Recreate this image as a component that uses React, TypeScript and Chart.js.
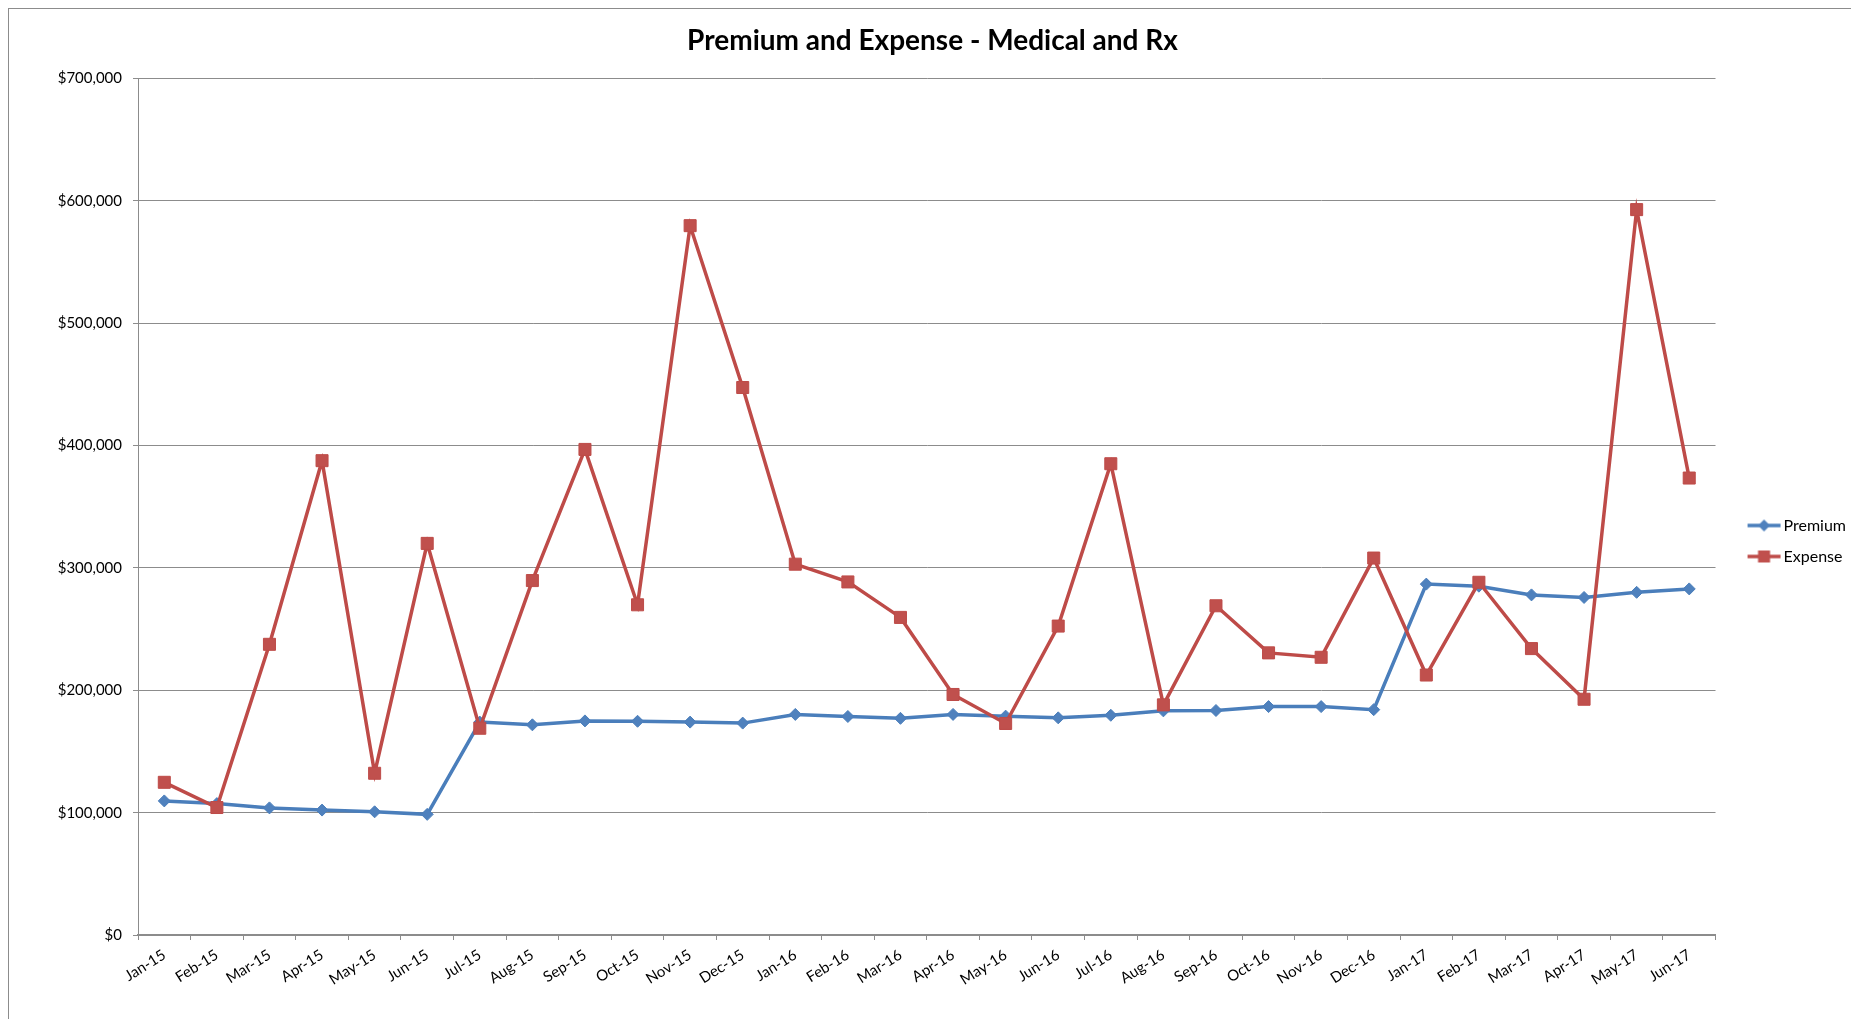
import React, { useEffect, useRef } from "react";
import { Chart, registerables } from "chart.js";

Chart.register(...registerables);

const chartTitle = "Premium and Expense - Medical and Rx";

const months = [
  "Jan-15", "Feb-15", "Mar-15", "Apr-15", "May-15", "Jun-15",
  "Jul-15", "Aug-15", "Sep-15", "Oct-15", "Nov-15", "Dec-15",
  "Jan-16", "Feb-16", "Mar-16", "Apr-16", "May-16", "Jun-16",
  "Jul-16", "Aug-16", "Sep-16", "Oct-16", "Nov-16", "Dec-16",
  "Jan-17", "Feb-17", "Mar-17", "Apr-17", "May-17", "Jun-17",
];

const premium = [
  109600, 107400, 103900, 102100, 100700, 98600,
  174000, 171800, 175000, 174700, 174000, 173200,
  180300, 178600, 177100, 180300, 178900, 177500,
  179600, 183200, 183500, 186700, 186700, 184200,
  286800, 285100, 278000, 275900, 280100, 282900,
];

const expense = [
  124800, 104200, 237600, 387700, 132200, 320100,
  169000, 289700, 396900, 269900, 579800, 447500,
  303100, 288600, 259600, 196600, 172900, 252500,
  385200, 188100, 269100, 230600, 227000, 308100,
  212500, 288300, 234100, 192700, 592900, 373500,
];

const seriesNames = ["Premium", "Expense"];
const yMin = 0;
const yMax = 700000;
const yStep = 100000;

const BLUE_LINE = "#4A7EBB";
const BLUE_FILL = "#4F81BD";
const RED_LINE = "#BE4B48";
const RED_FILL = "#C0504D";
const GRID = "#8C8C8C";

function legendImage(line: string, fill: string, kind: "diamond" | "square") {
  const c = document.createElement("canvas");
  c.width = 67;
  c.height = 16;
  const ctx = c.getContext("2d")!;
  ctx.strokeStyle = line;
  ctx.lineWidth = 3.5;
  ctx.beginPath();
  ctx.moveTo(28, 8);
  ctx.lineTo(61, 8);
  ctx.stroke();
  ctx.fillStyle = fill;
  const cx = 44.5;
  if (kind === "diamond") {
    ctx.beginPath();
    ctx.moveTo(cx - 6, 8);
    ctx.lineTo(cx, 2);
    ctx.lineTo(cx + 6, 8);
    ctx.lineTo(cx, 14);
    ctx.closePath();
    ctx.fill();
  } else {
    ctx.fillRect(cx - 6, 2, 12, 12);
  }
  return c;
}

export default function App() {
  const ref = useRef<HTMLCanvasElement | null>(null);

  useEffect(() => {
    if (!ref.current) return;
    Chart.defaults.font.family = "Lato";
    const images = [
      legendImage(BLUE_LINE, BLUE_FILL, "diamond"),
      legendImage(RED_LINE, RED_FILL, "square"),
    ];
    const chart = new Chart(ref.current, {
      type: "line",
      data: {
        labels: months,
        datasets: [
          {
            label: seriesNames[0],
            data: premium,
            borderColor: BLUE_LINE,
            backgroundColor: BLUE_FILL,
            pointBackgroundColor: BLUE_FILL,
            pointBorderColor: BLUE_LINE,
            pointBorderWidth: 1,
            pointStyle: "rectRot",
            pointRadius: 6,
            borderWidth: 3.5,
            tension: 0,
            order: 1,
          },
          {
            label: seriesNames[1],
            data: expense,
            borderColor: RED_LINE,
            backgroundColor: RED_FILL,
            pointBackgroundColor: RED_FILL,
            pointBorderColor: RED_LINE,
            pointBorderWidth: 1,
            pointStyle: "rect",
            pointRadius: 8.5,
            borderWidth: 3.5,
            tension: 0,
            order: 0,
          },
        ],
      },
      options: {
        responsive: false,
        animation: false,
        devicePixelRatio: 1,
        layout: { padding: { left: 0, right: 5, top: 0, bottom: 0 } },
        plugins: {
          title: {
            display: true,
            text: chartTitle,
            color: "#000000",
            font: { family: "Lato", size: 28, weight: "bold" },
            padding: { top: 15, bottom: 21 },
          },
          legend: {
            display: true,
            position: "right",
            fullSize: false,
            align: "center",
            title: {
              display: true,
              text: "",
              font: { size: 12 },
              padding: { top: 54, bottom: 0 },
            },
            labels: {
              usePointStyle: true,
              pointStyleWidth: 45,
              padding: 15,
              color: "#000000",
              font: { family: "Lato", size: 16 },
              sort: (a: any, b: any) => a.datasetIndex - b.datasetIndex,
              generateLabels: (c: any) => {
                const items = Chart.defaults.plugins.legend.labels.generateLabels(c);
                return items.map((it: any) => ({
                  ...it,
                  pointStyle: images[it.datasetIndex],
                }));
              },
            },
          },
          tooltip: { enabled: false },
        },
        scales: {
          x: {
            offset: true,
            afterFit: (scale: any) => {
              scale.height = 84;
            },
            grid: {
              display: true,
              drawOnChartArea: false,
              drawTicks: true,
              tickLength: 5,
              color: GRID,
              offset: true,
            },
            border: { display: true, color: GRID, width: 2 },
            ticks: {
              autoSkip: false,
              minRotation: 32,
              maxRotation: 32,
              color: "#000000",
              font: { family: "Lato", size: 15 },
              padding: 6,
            },
          },
          y: {
            min: yMin,
            max: yMax,
            afterFit: (scale: any) => {
              scale.width = 129;
            },
            grid: {
              display: true,
              drawOnChartArea: true,
              drawTicks: true,
              tickLength: 5,
              color: GRID,
            },
            border: { display: true, color: GRID, width: 1 },
            ticks: {
              stepSize: yStep,
              color: "#000000",
              font: { family: "Lato", size: 15 },
              padding: 11,
              callback: (v: any) => "$" + Number(v).toLocaleString("en-US"),
            },
          },
        },
      },
    });
    return () => chart.destroy();
  }, []);

  return (
    <div
      style={{
        position: "fixed",
        left: 8,
        top: 8,
        width: 1843,
        height: 1011,
        boxSizing: "border-box",
        borderLeft: "1px solid #8C8C8C",
        borderTop: "1px solid #8C8C8C",
        overflow: "hidden",
        background: "#ffffff",
      }}
    >
      <canvas ref={ref} width={1852} height={1010} style={{ display: "block" }} />
    </div>
  );
}
